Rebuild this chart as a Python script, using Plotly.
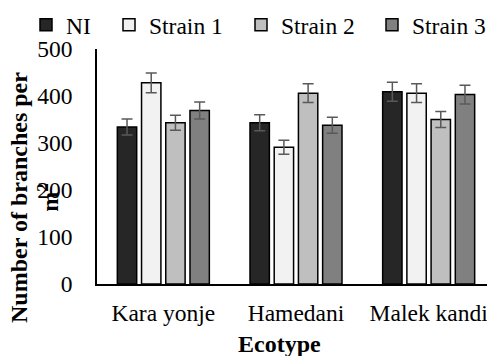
import plotly.graph_objects as go

categories = ["Kara yonje", "Hamedani", "Malek kandi"]
series_names = ["NI", "Strain 1", "Strain 2", "Strain 3"]
values = {
    "NI":       [334, 343, 409],
    "Strain 1": [428, 291, 406],
    "Strain 2": [343, 406, 350],
    "Strain 3": [369, 338, 403],
}
errors = {
    "NI":       [17, 17, 20],
    "Strain 1": [21, 15, 20],
    "Strain 2": [16, 20, 17],
    "Strain 3": [18, 17, 20],
}
colors = {"NI": "#262626", "Strain 1": "#f2f2f2", "Strain 2": "#bfbfbf", "Strain 3": "#808080"}
y_ticks = [0, 100, 200, 300, 400, 500]

# page body has an 8px margin, so the figure is 8px smaller
W, H = 487, 348
L, R, T, B = 89, 0, 41, 72
FONT = "Liberation Serif"
FS = 23.5

fig = go.Figure()
legend_ids = ["legend", "legend2", "legend3", "legend4"]
legend_x_px = [18, 101, 233, 364]
for i, name in enumerate(series_names):
    fig.add_trace(go.Bar(
        x=categories, y=values[name], name=name,
        marker=dict(color=colors[name], line=dict(color="#000000", width=1.5)),
        error_y=dict(type="data", array=errors[name], color="#595959", thickness=1.5, width=5.5),
        legend=legend_ids[i],
    ))

legend_common = dict(
    orientation="h", font=dict(family=FONT, size=FS, color="#000"),
    bgcolor="rgba(0,0,0,0)", borderwidth=0, xref="container", yref="container",
    xanchor="left", yanchor="middle", y=1 - 17 / H,
)
layout_legends = {}
for lid, px in zip(legend_ids, legend_x_px):
    layout_legends[lid] = dict(legend_common, x=px / W)

fig.update_layout(
    width=W, height=H, margin=dict(l=L, r=R, t=T, b=B, autoexpand=False),
    paper_bgcolor="white", plot_bgcolor="white",
    barmode="group", bargap=0.27, bargroupgap=0.2,
    font=dict(family=FONT, size=FS, color="#000"),
    showlegend=True,
    **layout_legends,
)
fig.update_xaxes(
    showline=True, linecolor="#000", linewidth=1.5, showgrid=False, ticks="",
    tickfont=dict(family=FONT, size=FS, color="#000"), ticklabelstandoff=7,
)
fig.update_yaxes(
    range=[0, 500], tickvals=y_ticks, showline=True, linecolor="#000", linewidth=1.5,
    showgrid=False, zeroline=False, ticks="", ticklabelstandoff=18,
    tickfont=dict(family=FONT, size=FS, color="#000"),
)
plot_h = H - T - B
fig.add_annotation(
    text="<b>Number of branches per<br>m<sup>2</sup></b>", textangle=-90,
    xref="paper", yref="paper", x=(26 - L) / (W - L - R), y=(H - B - 190) / plot_h,
    xanchor="center", yanchor="middle", showarrow=False,
    font=dict(family=FONT, size=24, color="#000"),
)
fig.add_annotation(
    text="<b>Ecotype</b>", xref="paper", yref="paper",
    x=(271 - L) / (W - L - R), y=(H - B - 336) / plot_h,
    xanchor="center", yanchor="middle", showarrow=False,
    font=dict(family=FONT, size=24, color="#000"),
)
fig.write_html("out.html")
